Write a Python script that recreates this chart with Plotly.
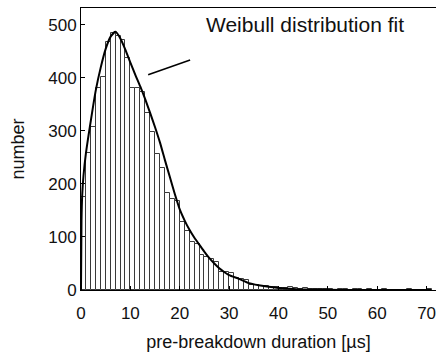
import plotly.graph_objects as go

# histogram counts, 1 µs bins starting at 0
bin_left = list(range(0, 71))
counts = [175, 258, 307, 381, 402, 468, 485, 480, 472, 438,
          382, 381, 374, 334, 298, 256, 230, 183, 172, 168,
          128, 111, 91, 87, 66, 62, 58, 52, 34, 34,
          33, 22, 20, 19, 10, 9, 7, 7, 6, 5,
          4, 4, 5, 3, 2, 3, 2, 1, 1, 1,
          1, 0, 1, 1, 0, 1, 1, 0, 1, 0,
          0, 1, 0, 0, 0, 0, 1, 0, 0, 0, 1]

# Weibull fit curve
fit_x = [0, 0.1, 0.25, 0.5, 1, 2, 3, 4, 5, 6, 7, 8, 9, 10, 11, 12, 13, 14, 15,
         16, 17, 18, 19, 20, 21, 22, 23, 24, 25, 26, 27, 28, 29, 30, 32, 34, 36,
         38, 40, 43, 46, 50, 55, 71]
fit_y = [0, 130, 180, 215, 258, 320, 377, 420, 455, 478, 487, 474, 453, 429, 406,
         384, 360, 334, 307, 278, 245, 213, 181, 152, 131, 113, 98, 85, 72, 60,
         50, 41, 34, 28, 21, 13, 9, 6, 4, 2, 1, 0.5, 0, 0]

x_ticks = [0, 10, 20, 30, 40, 50, 60, 70]
y_ticks = [0, 100, 200, 300, 400, 500]

FONT = "Liberation Sans, Arial, sans-serif"

fig = go.Figure()
fig.add_trace(go.Bar(
    x=[b + 0.5 for b in bin_left], y=counts, width=1,
    marker=dict(color="white", line=dict(color="#3a3a3a", width=1)),
    showlegend=False, hoverinfo="skip"))
fig.add_trace(go.Scatter(
    x=fit_x, y=fit_y, mode="lines",
    line=dict(color="black", width=2, shape="spline", smoothing=0.6),
    showlegend=False))

fig.add_shape(type="line", x0=13.6, y0=406, x1=22.1, y1=434,
              xref="x", yref="y", line=dict(color="black", width=1.5))
fig.add_annotation(x=25.0, y=500, xref="x", yref="y", xanchor="left",
                   yanchor="middle", text="Weibull distribution fit",
                   showarrow=False, font=dict(family=FONT, size=21, color="#111"))

fig.update_layout(
    width=436, height=352,
    margin=dict(l=81, r=0, t=8, b=62),
    paper_bgcolor="white", plot_bgcolor="white",
    bargap=0,
    font=dict(family=FONT, size=17, color="#111"),
)
fig.update_xaxes(range=[0, 71.9], tickvals=x_ticks, ticks="inside", ticklen=4,
                 tickcolor="black", showline=True, linecolor="black", linewidth=1,
                 mirror=True, showgrid=False, zeroline=False,
                 ticklabelstandoff=8, ticklabeloverflow="allow",
                 title=dict(text="pre-breakdown duration [µs]", standoff=12,
                            font=dict(size=18)),
                 tickfont=dict(size=17))
fig.update_yaxes(range=[0, 532], tickvals=y_ticks, ticks="inside", ticklen=4,
                 tickcolor="black", showline=True, linecolor="black", linewidth=1,
                 showgrid=False, zeroline=False,
                 title=dict(text="number", standoff=18, font=dict(size=18)),
                 tickfont=dict(size=17))

fig.write_html("out.html")
